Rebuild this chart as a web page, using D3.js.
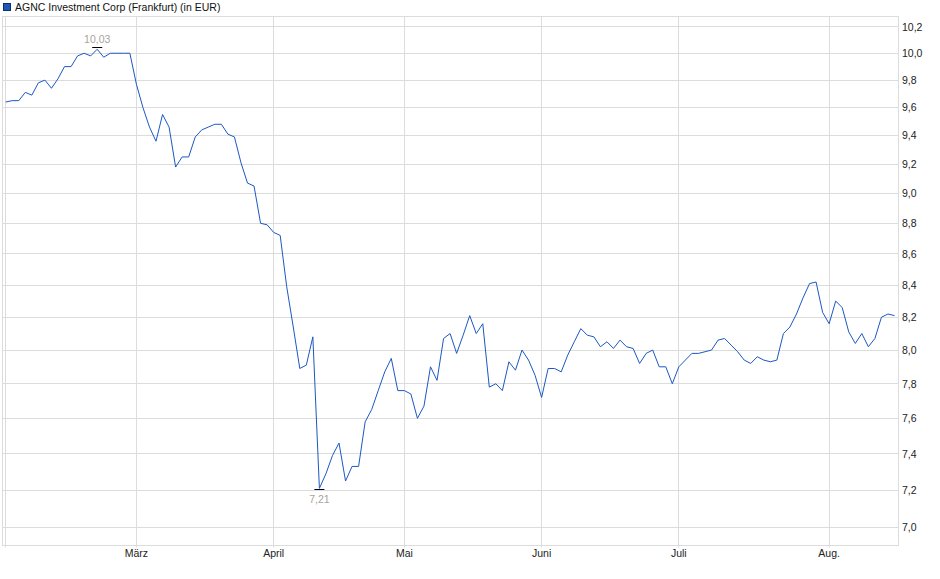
<!DOCTYPE html>
<html>
<head>
<meta charset="utf-8">
<script src="https://cdn.jsdelivr.net/npm/d3@7"></script>
<style>
  body { margin: 0; background: #fff; }
  svg { display: block; font-family: "Liberation Sans", Arial, sans-serif; }
</style>
</head>
<body>
<svg id="chart" width="940" height="579"></svg>
<script>
const title = "AGNC Investment Corp (Frankfurt) (in EUR)"
const firstDay = "2025-02-03"
const lastDay = "2025-08-15"
const holidays = ["2025-04-18", "2025-04-21", "2025-05-01"]
const monthNames = ["Jan.", "Feb.", "März", "April", "Mai", "Juni", "Juli", "Aug.", "Sep.", "Okt.", "Nov.", "Dez."]
const yTicks = [7.0, 7.2, 7.4, 7.6, 7.8, 8.0, 8.2, 8.4, 8.6, 8.8, 9.0, 9.2, 9.4, 9.6, 9.8, 10.0, 10.2]

// closing prices, one per trading day
const prices = [
  9.64, 9.65, 9.65, 9.71, 9.69, 9.78, 9.80, 9.74, 9.81, 9.90,
  9.90, 9.98, 10.00, 9.98, 10.03, 9.97, 10.00, 10.00, 10.00, 10.00,
  9.77, 9.60, 9.46, 9.36, 9.55, 9.46, 9.18, 9.25, 9.25, 9.39,
  9.44, 9.46, 9.48, 9.48, 9.41, 9.39, 9.21, 9.07, 9.05, 8.80,
  8.79, 8.74, 8.72, 8.39, 8.14, 7.89, 7.91, 8.08, 7.21, 7.29,
  7.39, 7.46, 7.25, 7.33, 7.33, 7.58, 7.65, 7.76, 7.87, 7.95,
  7.76, 7.76, 7.74, 7.60, 7.67, 7.90, 7.82, 8.07, 8.10, 7.98,
  8.09, 8.21, 8.10, 8.16, 7.78, 7.80, 7.76, 7.93, 7.88, 8.00,
  7.94, 7.85, 7.72, 7.89, 7.89, 7.87, 7.97, 8.05, 8.13, 8.09,
  8.08, 8.02, 8.05, 8.01, 8.06, 8.02, 8.01, 7.92, 7.98, 8.00,
  7.90, 7.90, 7.80, 7.90, 7.94, 7.98, 7.98, 7.99, 8.00, 8.06,
  8.07, 8.03, 7.99, 7.94, 7.92, 7.96, 7.94, 7.93, 7.94, 8.10,
  8.14, 8.22, 8.32, 8.41, 8.42, 8.23, 8.16, 8.30, 8.26, 8.11,
  8.04, 8.10, 8.02, 8.07, 8.20, 8.22, 8.21
]

const plot = {left: 2.5, top: 16.5, right: 898.5, bottom: 545.5}
const lineColor = "#1c58c2"
const gridColor = "#dcdcdc"
const fontSize = "10.5px"

const parseDay = d3.utcParse("%Y-%m-%d")
const dayKey = d3.utcFormat("%Y-%m-%d")
const tradingDays = d3.utcDay.range(parseDay(firstDay), d3.utcDay.offset(parseDay(lastDay), 1))
    .filter(d => d.getUTCDay() !== 0 && d.getUTCDay() !== 6 && !holidays.includes(dayKey(d)))
const data = prices.map((p, i) => ({i: i, date: tradingDays[i], value: p}))

const de = d3.formatLocale({decimal: ",", thousands: ".", grouping: [3], currency: ["", " €"]})
const fmtTick = de.format(".1f")
const fmtValue = de.format(".2f")

const x = d3.scaleLinear()
    .domain([0, prices.length - 1])
    .range([5.7, 894.5])
const y = d3.scaleLog()
    .domain([6.907, 10.28])
    .range([plot.bottom, plot.top])

const monthTicks = data.filter((d, i) => i === 0 || d.date.getUTCMonth() !== data[i - 1].date.getUTCMonth())

const svg = d3.select("#chart")
const crisp = v => Math.floor(v) + 0.5

// legend
svg.append("rect")
    .attr("x", 3.5).attr("y", 3.5)
    .attr("width", 7).attr("height", 7)
    .attr("fill", "#1f55b5")
    .attr("stroke", "#0f2f6a")
svg.append("text")
    .attr("x", 15).attr("y", 10.5)
    .attr("font-size", fontSize)
    .attr("fill", "#111")
    .text(title)

// grid
svg.append("g").selectAll("line")
    .data(yTicks)
    .join("line")
    .attr("x1", plot.left).attr("x2", plot.right)
    .attr("y1", d => crisp(y(d))).attr("y2", d => crisp(y(d)))
    .attr("stroke", gridColor)

svg.append("g").selectAll("line")
    .data(monthTicks)
    .join("line")
    .attr("x1", d => crisp(x(d.i))).attr("x2", d => crisp(x(d.i)))
    .attr("y1", plot.top).attr("y2", plot.bottom + 2)
    .attr("stroke", gridColor)

svg.append("rect")
    .attr("x", plot.left).attr("y", plot.top)
    .attr("width", plot.right - plot.left)
    .attr("height", plot.bottom - plot.top)
    .attr("fill", "none")
    .attr("stroke", gridColor)

// axes labels
svg.append("g").selectAll("text")
    .data(yTicks)
    .join("text")
    .attr("x", plot.right + 3.5)
    .attr("y", d => y(d))
    .attr("dy", "0.36em")
    .attr("font-size", fontSize)
    .attr("fill", "#222")
    .text(d => fmtTick(d))

svg.append("g").selectAll("text")
    .data(monthTicks.filter(d => d.i > 0))
    .join("text")
    .attr("x", d => x(d.i))
    .attr("y", 557)
    .attr("text-anchor", "middle")
    .attr("font-size", fontSize)
    .attr("fill", "#222")
    .text(d => monthNames[d.date.getUTCMonth()])

// price line
svg.append("path")
    .datum(data)
    .attr("d", d3.line().x(d => x(d.i)).y(d => y(d.value)))
    .attr("fill", "none")
    .attr("stroke", lineColor)
    .attr("stroke-width", 1)

// high / low markers
const hi = d3.greatest(data, d => d.value)
const lo = d3.least(data, d => d.value)

svg.append("line")
    .attr("x1", x(hi.i) - 5).attr("x2", x(hi.i) + 5)
    .attr("y1", crisp(y(hi.value) - 2)).attr("y2", crisp(y(hi.value) - 2))
    .attr("stroke", "#000")
svg.append("text")
    .attr("x", x(hi.i)).attr("y", y(hi.value) - 6)
    .attr("text-anchor", "middle")
    .attr("font-size", fontSize)
    .attr("fill", "#a9a49c")
    .text(fmtValue(hi.value))

svg.append("line")
    .attr("x1", x(lo.i) - 5).attr("x2", x(lo.i) + 5)
    .attr("y1", crisp(y(lo.value) + 1)).attr("y2", crisp(y(lo.value) + 1))
    .attr("stroke", "#000")
svg.append("text")
    .attr("x", x(lo.i)).attr("y", y(lo.value) + 15)
    .attr("text-anchor", "middle")
    .attr("font-size", fontSize)
    .attr("fill", "#a9a49c")
    .text(fmtValue(lo.value))
</script>
</body>
</html>
